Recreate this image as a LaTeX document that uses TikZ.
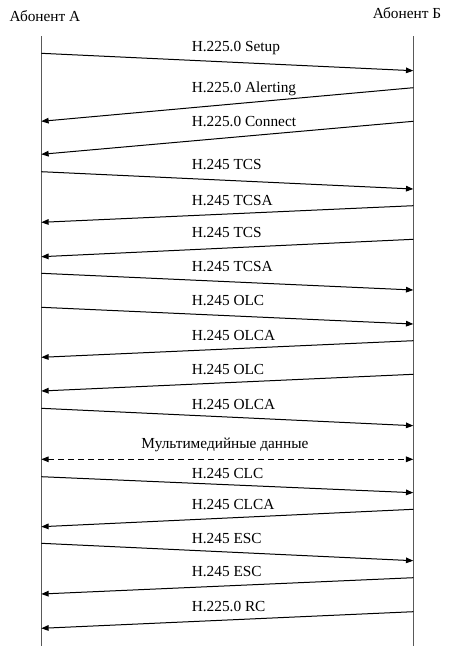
\documentclass[tikz,border=0pt]{standalone}
\usepackage{fontspec}
\setmainfont{Liberation Serif}
\usetikzlibrary{arrows.meta}
\begin{document}
\begin{tikzpicture}[x=0.75pt,y=-0.75pt,
  life/.style={draw=black!65,line width=0.9pt},
  msg/.style={draw=black,line width=0.75pt,-{Triangle[length=5.5pt,width=4.2pt]}},
  dmsg/.style={draw=black,line width=0.75pt,dash pattern=on 4.5pt off 3pt,{Triangle[length=5.5pt,width=4.2pt]}-{Triangle[length=5.5pt,width=4.2pt]}},
  lab/.style={inner sep=0pt,anchor=west,font=\fontsize{11.5pt}{13pt}\selectfont},
  clab/.style={inner sep=0pt,font=\fontsize{11.5pt}{13pt}\selectfont}]
\useasboundingbox (0,0) rectangle (473,651);
% headers
\node[clab] (hA) at (45,16) {Абонент А};
\node[clab] (hB) at (407,13) {Абонент Б};
% lifelines
\coordinate (At) at (41.3,36); \coordinate (Ab) at (41.3,646);
\coordinate (Bt) at (413.3,36); \coordinate (Bb) at (413.3,646);
\draw[life] (At) -- (Ab);
\draw[life] (Bt) -- (Bb);
% messages: start, end, label
\coordinate (s1) at (41.3,53.3);  \coordinate (e1) at (413.3,70.7);
\coordinate (s2) at (413.3,87.7); \coordinate (e2) at (41.3,121.3);
\coordinate (s3) at (413.3,121.3);\coordinate (e3) at (41.3,154.3);
\coordinate (s4) at (41.3,171.7); \coordinate (e4) at (413.3,189);
\coordinate (s5) at (413.3,205.7);\coordinate (e5) at (41.3,222.3);
\coordinate (s6) at (413.3,239.3);\coordinate (e6) at (41.3,256.7);
\coordinate (s7) at (41.3,273.3); \coordinate (e7) at (413.3,290);
\coordinate (s8) at (41.3,307.3); \coordinate (e8) at (413.3,324);
\coordinate (s9) at (413.3,340.7);\coordinate (e9) at (41.3,357.3);
\coordinate (s10) at (413.3,374.3);\coordinate (e10) at (41.3,391);
\coordinate (s11) at (41.3,408.3); \coordinate (e11) at (413.3,425.7);
\coordinate (s12) at (41.3,459.3); \coordinate (e12) at (413.3,459.3);
\coordinate (s13) at (41.3,476.7); \coordinate (e13) at (413.3,492.7);
\coordinate (s14) at (413.3,509.3);\coordinate (e14) at (41.3,526.7);
\coordinate (s15) at (41.3,543.3); \coordinate (e15) at (413.3,560.7);
\coordinate (s16) at (413.3,577.7);\coordinate (e16) at (41.3,594);
\coordinate (s17) at (413.3,611.7);\coordinate (e17) at (41.3,628.3);
\foreach \i in {1,...,11,13,14,15,16,17} {\draw[msg] (s\i) -- (e\i);}
\draw[dmsg] (s12) -- (e12);
% labels
\node[lab] (l1) at (191.5,48) {H.225.0 Setup};
\node[lab] (l2) at (191.5,89) {H.225.0 Alerting};
\node[lab] (l3) at (191.5,122) {H.225.0 Connect};
\node[lab] (l4) at (191.5,165) {H.245 TCS};
\node[lab] (l5) at (191.5,200.7) {H.245 TCSA};
\node[lab] (l6) at (191.5,232.7) {H.245 TCS};
\node[lab] (l7) at (191.5,266.7) {H.245 TCSA};
\node[lab] (l8) at (191.5,300.7) {H.245 OLC};
\node[lab] (l9) at (191.5,335.7) {H.245 OLCA};
\node[lab] (l10) at (191.5,370) {H.245 OLC};
\node[lab] (l11) at (191.5,405) {H.245 OLCA};
\node[clab] (l12) at (225,445) {Мультимедийные данные};
\node[lab] (l13) at (191.5,473.3) {H.245 CLC};
\node[lab] (l14) at (191.5,505) {H.245 CLCA};
\node[lab] (l15) at (191.5,539) {H.245 ESC};
\node[lab] (l16) at (191.5,571.7) {H.245 ESC};
\node[lab] (l17) at (191.5,606.7) {H.225.0 RC};
\end{tikzpicture}
\end{document}
